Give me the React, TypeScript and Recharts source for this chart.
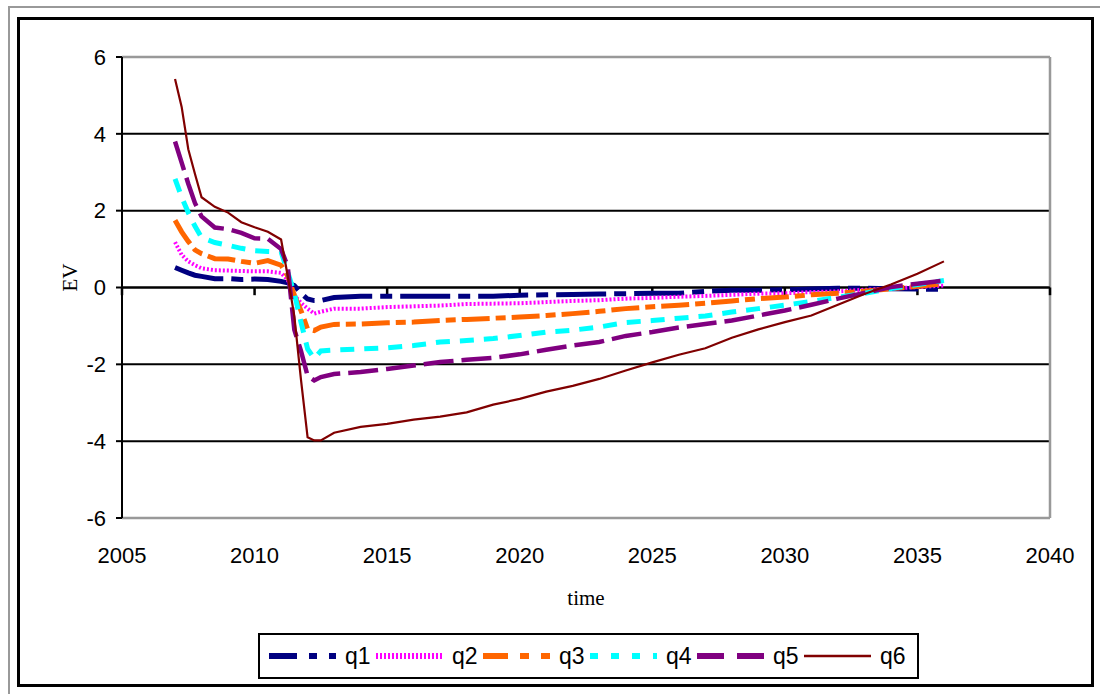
import React from "react";
import { LineChart, Line, XAxis, YAxis, CartesianGrid, ReferenceLine } from "recharts";

const times = [
  2007, 2007.25, 2007.5, 2007.75, 2008, 2008.5, 2009, 2009.5, 2010, 2010.5,
  2011, 2011.25, 2011.5, 2011.75, 2012, 2012.25, 2012.5,
  2013, 2014, 2015, 2016, 2017, 2018, 2019, 2020, 2021, 2022, 2023, 2024,
  2025, 2026, 2027, 2028, 2029, 2030, 2031, 2032, 2033, 2034, 2035, 2036,
];

const q1 = [
  0.52, 0.45, 0.38, 0.32, 0.29, 0.23, 0.23, 0.21, 0.22, 0.21, 0.16, 0.12, 0.05, -0.15, -0.3, -0.34, -0.34,
  -0.26, -0.23, -0.23, -0.23, -0.23, -0.23, -0.23, -0.2, -0.19, -0.18, -0.17, -0.16, -0.15, -0.15, -0.1,
  -0.07, -0.07, -0.06, -0.04, -0.02, -0.02, -0.03, -0.04, -0.05,
];
const q2 = [
  1.18, 0.85, 0.68, 0.58, 0.5, 0.45, 0.44, 0.43, 0.42, 0.42, 0.38, 0.2, -0.2, -0.4, -0.55, -0.68, -0.63,
  -0.55, -0.55, -0.51, -0.49, -0.47, -0.43, -0.42, -0.41, -0.38, -0.35, -0.33, -0.29, -0.27, -0.24, -0.22,
  -0.19, -0.16, -0.15, -0.12, -0.1, -0.06, -0.03, 0.01, 0.05,
];
const q3 = [
  1.75, 1.45, 1.2, 0.98, 0.88, 0.75, 0.74, 0.68, 0.63, 0.7, 0.58, 0.3, -0.2, -0.6, -1.08, -1.12, -1.03,
  -0.96, -0.95, -0.92, -0.9, -0.86, -0.83, -0.8, -0.77, -0.73, -0.68, -0.62, -0.55, -0.5, -0.46, -0.41,
  -0.35, -0.29, -0.25, -0.19, -0.15, -0.1, -0.03, 0.03, 0.1,
];
const q4 = [
  2.83, 2.35, 1.95, 1.6, 1.3, 1.17, 1.1, 1.02, 0.96, 0.94, 0.93, 0.4, -0.15, -0.9, -1.6, -1.85, -1.65,
  -1.63, -1.6, -1.57, -1.51, -1.42, -1.38, -1.33, -1.25, -1.16, -1.11, -1.03, -0.91, -0.86, -0.8, -0.74,
  -0.64, -0.55, -0.46, -0.36, -0.25, -0.15, -0.03, 0.08, 0.18,
];
const q5 = [
  3.8, 3.25, 2.7, 2.2, 1.85, 1.56, 1.52, 1.42, 1.28, 1.27, 1.0, 0.55, -1.1, -1.65, -2.3, -2.42, -2.33,
  -2.25, -2.2, -2.12, -2.03, -1.94, -1.88, -1.83, -1.74, -1.62, -1.51, -1.42, -1.26, -1.16, -1.04, -0.95,
  -0.86, -0.73, -0.6, -0.45, -0.29, -0.14, 0.01, 0.1, 0.18,
];
const q6 = [
  5.43, 4.7, 3.6, 2.96, 2.35, 2.1, 1.95, 1.7, 1.57, 1.45, 1.25, 0.3, -0.75, -2.4, -3.9, -3.98, -3.98,
  -3.78, -3.63, -3.55, -3.44, -3.36, -3.25, -3.05, -2.9, -2.71, -2.56, -2.38, -2.16, -1.95, -1.75, -1.58,
  -1.31, -1.09, -0.9, -0.73, -0.45, -0.17, 0.08, 0.36, 0.68,
];

const xTicks = [2005, 2010, 2015, 2020, 2025, 2030, 2035, 2040];
const yTicks = [-6, -4, -2, 0, 2, 4, 6];

const data = times.map((t, i) => ({
  time: t,
  q1: q1[i],
  q2: q2[i],
  q3: q3[i],
  q4: q4[i],
  q5: q5[i],
  q6: q6[i],
}));

// plot styles + legend swatch styles
const series = [
  { key: "q1", color: "#000080", width: 5, dash: "50 8 12 8", legendDash: "28 12 8 12" },
  { key: "q2", color: "#FF00FF", width: 4, dash: "2 2", legendDash: "2 2" },
  { key: "q3", color: "#FF6600", width: 5, dash: "28 6 10 6", legendDash: "25 12 9 12" },
  { key: "q4", color: "#00FFFF", width: 5, dash: "14 10", legendDash: "8 13" },
  { key: "q5", color: "#800080", width: 4.5, dash: "30 8", legendDash: "27 13" },
  { key: "q6", color: "#800000", width: 2.2, dash: undefined, legendDash: undefined },
];

const sans = "'Liberation Sans', Arial, sans-serif";
const serif = "'Liberation Serif', 'Times New Roman', serif";

const EVLabel = (props: any) => {
  const vb = props.viewBox;
  const cx = vb.x + vb.width / 2;
  const cy = vb.y + vb.height / 2 - 10;
  return (
    <text
      x={cx}
      y={cy}
      transform={`rotate(-90, ${cx}, ${cy})`}
      textAnchor="middle"
      dominantBaseline="central"
      fontFamily={serif}
      fontSize={21}
      fill="#000"
    >
      EV
    </text>
  );
};

const TimeLabel = (props: any) => {
  const vb = props.viewBox;
  return (
    <text
      x={vb.x + vb.width / 2}
      y={vb.y + 80}
      textAnchor="middle"
      dominantBaseline="central"
      fontFamily={serif}
      fontSize={21}
      fill="#000"
    >
      time
    </text>
  );
};

const LegendBox = () => (
  <div
    style={{
      position: "absolute",
      left: 258,
      top: 633,
      width: 648,
      height: 42,
      border: "2px solid #000",
      display: "flex",
      alignItems: "center",
      paddingLeft: 9,
      boxSizing: "content-box",
      fontFamily: sans,
      fontSize: 23,
      background: "#fff",
    }}
  >
    {series.map((s) => (
      <div key={s.key} style={{ display: "flex", alignItems: "center", width: 107 }}>
        <svg width={67} height={10} style={{ display: "block" }}>
          <line
            x1={0}
            y1={5}
            x2={67}
            y2={5}
            stroke={s.color}
            strokeWidth={s.key === "q6" ? 2.5 : 6}
            strokeDasharray={s.legendDash}
          />
        </svg>
        <span style={{ marginLeft: 9 }}>{s.key}</span>
      </div>
    ))}
  </div>
);

export default function App() {
  return (
    <div style={{ position: "absolute", left: 0, top: 0, width: 1100, height: 694, background: "#fff" }}>
      <div style={{ position: "absolute", left: 8, top: 6, width: 2, height: 688, background: "#999" }} />
      <div style={{ position: "absolute", left: 8, top: 6, width: 1092, height: 2, background: "#999" }} />
      <div
        style={{
          position: "absolute",
          left: 17,
          top: 17,
          width: 1071,
          height: 664,
          border: "3px solid #000",
        }}
      />
      <div style={{ position: "absolute", left: 0, top: 0 }}>
        <LineChart width={1100} height={694} data={data} margin={{ top: 57, right: 50, bottom: 76, left: 18 }}>
          <CartesianGrid vertical={false} stroke="#000" strokeWidth={2} />
          <XAxis
            dataKey="time"
            type="number"
            domain={[2005, 2040]}
            ticks={xTicks}
            axisLine={false}
            tickLine={false}
            tickSize={6}
            tickMargin={23}
            height={100}
            tick={{ fill: "#000", fontSize: 22, fontFamily: sans }}
            label={<TimeLabel />}
          />
          <YAxis
            type="number"
            domain={[-6, 6]}
            ticks={yTicks}
            width={104}
            axisLine={{ stroke: "#000", strokeWidth: 2 }}
            tickLine={{ stroke: "#000", strokeWidth: 2 }}
            tickSize={6}
            tickMargin={10}
            tick={{ fill: "#000", fontSize: 22, fontFamily: sans }}
            label={<EVLabel />}
          />
          <ReferenceLine y={6} stroke="#999" strokeWidth={2.5} />
          <ReferenceLine y={-6} stroke="#999" strokeWidth={2.5} />
          <ReferenceLine x={2040} stroke="#999" strokeWidth={2.5} />
          <ReferenceLine y={0} stroke="#000" strokeWidth={2} />
          {xTicks.map((t) => (
            <ReferenceLine
              key={t}
              segment={[
                { x: t, y: 0 },
                { x: t, y: -0.2 },
              ]}
              stroke="#000"
              strokeWidth={2.5}
              ifOverflow="visible"
            />
          ))}
          {series.map((s) => (
            <Line
              key={s.key}
              type="linear"
              dataKey={s.key}
              stroke={s.color}
              strokeWidth={s.width}
              strokeDasharray={s.dash}
              dot={false}
              activeDot={false}
              isAnimationActive={false}
            />
          ))}
        </LineChart>
      </div>
      <LegendBox />
    </div>
  );
}
